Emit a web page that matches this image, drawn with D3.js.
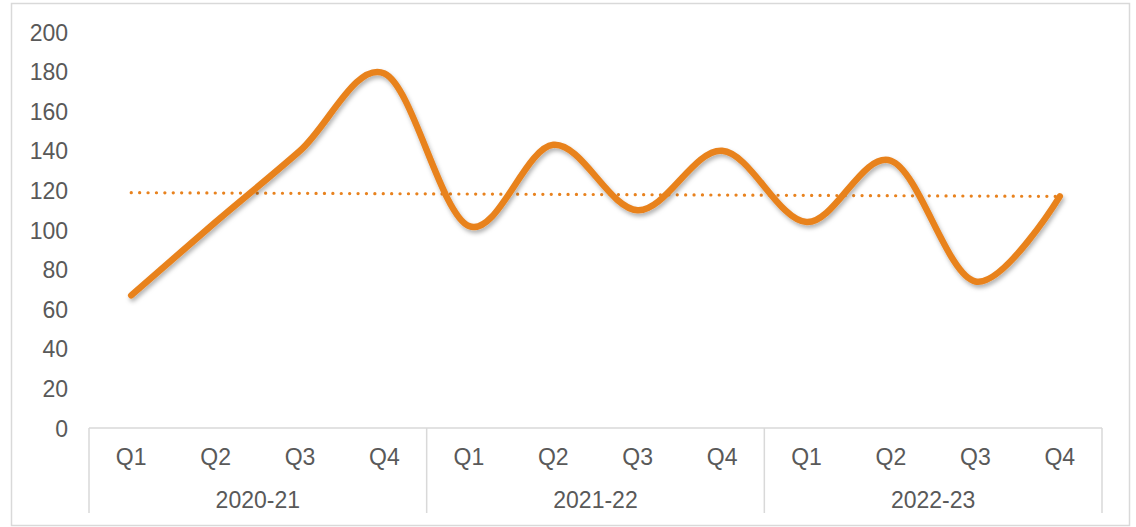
<!DOCTYPE html>
<html lang="en">
<head>
<meta charset="UTF-8">
<title>Quarterly trend</title>
<script src="https://d3js.org/d3.v7.min.js"></script>
<style>
  body { margin: 0; background: #fff; }
  svg text { font-family: "Liberation Sans", Arial, sans-serif; font-size: 23px; fill: #595959; }
</style>
</head>
<body>
<div id="chart"></div>
<script>
  // data
  const years = ["2020-21", "2021-22", "2022-23"];
  const quarters = ["Q1", "Q2", "Q3", "Q4"];
  const values = [67, 104, 140, 179, 102, 143, 110, 140, 104, 135, 74, 117];
  const yTicks = [0, 20, 40, 60, 80, 100, 120, 140, 160, 180, 200];

  const W = 1136, H = 527;
  const plotLeft = 89, plotRight = 1102, plotTop = 32, base = 428;
  const orange = "#E8821E", grid = "#D9D9D9";

  const svg = d3.select("#chart").append("svg")
    .attr("width", W).attr("height", H);

  // drop shadow for the series line
  svg.append("defs").append("filter")
    .attr("id", "shadow").attr("x", "-5%").attr("y", "-10%")
    .attr("width", "110%").attr("height", "130%")
    .append("feDropShadow")
    .attr("dx", 1.5).attr("dy", 3).attr("stdDeviation", 2)
    .attr("flood-color", "#000").attr("flood-opacity", 0.3);

  // chart frame
  svg.append("rect")
    .attr("x", 11.5).attr("y", 3.5).attr("width", 1118).attr("height", 522)
    .attr("fill", "none").attr("stroke", grid).attr("stroke-width", 1.5);

  const keys = values.map((d, i) => i);
  const x = d3.scaleBand().domain(keys).range([plotLeft, plotRight]);
  const cx = i => x(i) + x.bandwidth() / 2;
  const y = d3.scaleLinear().domain([0, 200]).range([base, plotTop]);
  const xYear = d3.scaleBand().domain(years).range([plotLeft, plotRight]);

  // y labels
  const yAxis = svg.append("g")
    .attr("transform", "translate(68,0)")
    .call(d3.axisLeft(y).tickValues(yTicks).tickSize(0).tickPadding(0));
  yAxis.select(".domain").remove();
  yAxis.selectAll("text").attr("dy", "0.35em");
  yAxis.attr("font-size", null).attr("font-family", null);
  yAxis.selectAll("text").attr("fill", null);

  // category axis line + group separators
  svg.append("line")
    .attr("x1", plotLeft).attr("x2", plotRight).attr("y1", base).attr("y2", base)
    .attr("stroke", grid).attr("stroke-width", 1.5);
  const seps = years.map(d => xYear(d)).concat([plotRight]);
  svg.selectAll(".sep").data(seps).enter().append("line")
    .attr("class", "sep")
    .attr("x1", d => d).attr("x2", d => d)
    .attr("y1", base).attr("y2", 513)
    .attr("stroke", grid).attr("stroke-width", 1.5);

  // quarter labels
  const qAxis = svg.append("g")
    .attr("transform", `translate(0,${base})`)
    .call(d3.axisBottom(x).tickSize(0).tickPadding(0)
      .tickFormat(i => quarters[i % quarters.length]));
  qAxis.select(".domain").remove();
  qAxis.selectAll("text").attr("y", 29).attr("dy", "0.35em").attr("fill", null);
  qAxis.attr("font-size", null).attr("font-family", null);

  // year labels
  svg.selectAll(".year").data(years).enter().append("text")
    .attr("class", "year")
    .attr("x", d => xYear(d) + xYear.bandwidth() / 2)
    .attr("y", 500).attr("dy", "0.35em")
    .attr("text-anchor", "middle")
    .text(d => d);

  // linear trendline (least squares)
  const n = values.length;
  const mx = d3.mean(keys), my = d3.mean(values);
  const slope = d3.sum(keys, i => (i - mx) * (values[i] - my)) / d3.sum(keys, i => (i - mx) ** 2);
  const trend = i => my + slope * (i - mx);
  svg.append("line")
    .attr("x1", cx(0)).attr("y1", y(trend(0)))
    .attr("x2", cx(n - 1)).attr("y2", y(trend(n - 1)))
    .attr("stroke", orange).attr("stroke-width", 3.2)
    .attr("stroke-linecap", "round")
    .attr("stroke-dasharray", "0.1 8.3");

  // smoothed series line
  const line = d3.line()
    .x((d, i) => cx(i))
    .y(d => y(d))
    .curve(d3.curveCardinal.tension(0));
  svg.append("path")
    .datum(values)
    .attr("d", line)
    .attr("fill", "none")
    .attr("stroke", orange)
    .attr("stroke-width", 6.5)
    .attr("stroke-linecap", "round")
    .attr("stroke-linejoin", "round")
    .attr("filter", "url(#shadow)");
</script>
</body>
</html>
